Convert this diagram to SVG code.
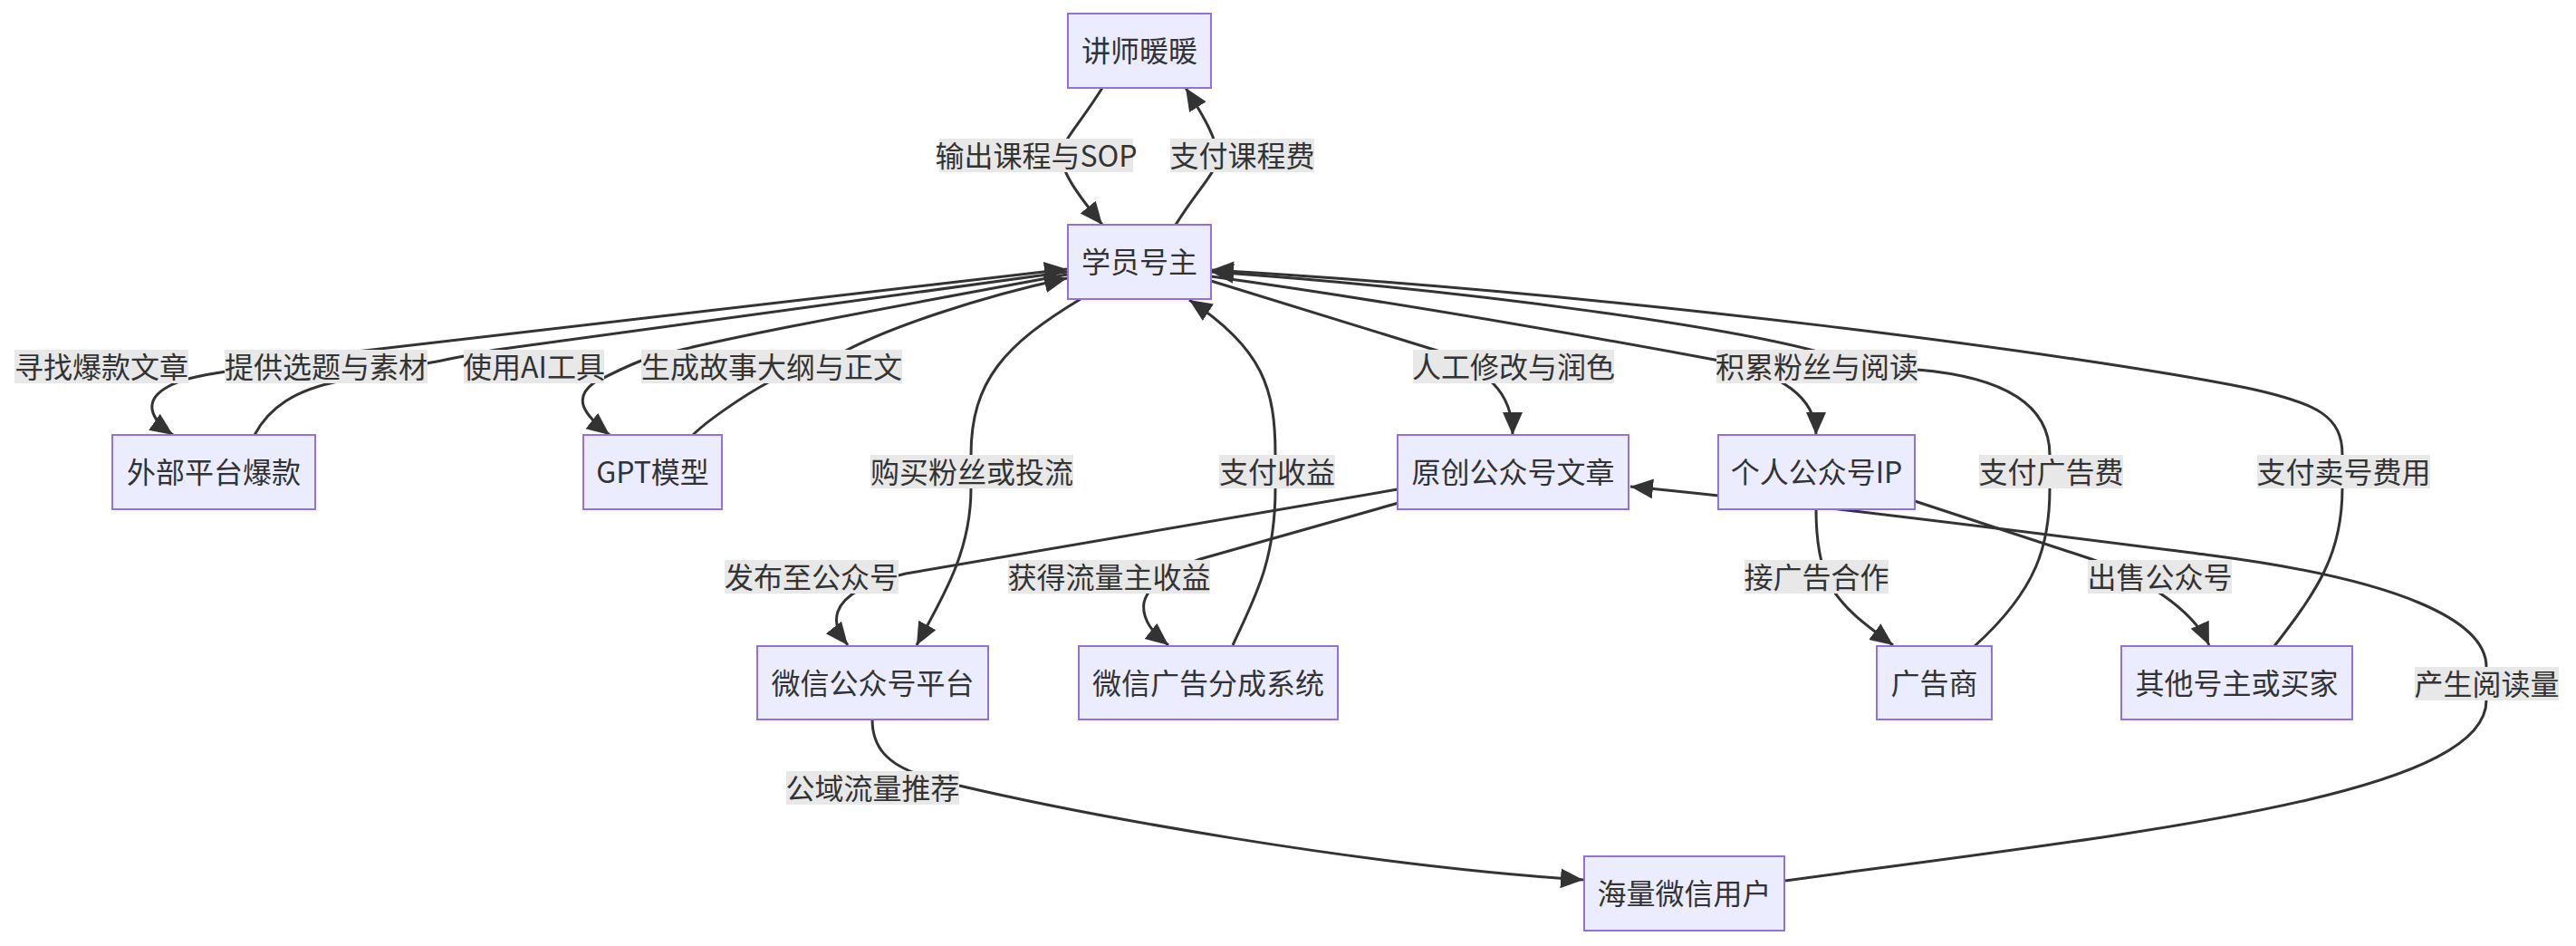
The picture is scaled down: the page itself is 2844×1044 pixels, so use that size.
<svg xmlns="http://www.w3.org/2000/svg" width="2844" height="1044" viewBox="0 0 2844 1044">
<defs>
<marker id="arr" markerUnits="userSpaceOnUse" markerWidth="26" markerHeight="24" refX="25" refY="11" orient="auto">
<path d="M0,0 L25,11 L0,22 z" fill="#333333"/>
</marker>
<style>
.node rect{fill:#ECECFF;stroke:#9370DB;stroke-width:2}
text{font-family:"Noto Sans CJK SC","Liberation Sans",sans-serif;font-size:32px;fill:#333333;text-anchor:middle}
.edges path{fill:none;stroke:#333333;stroke-width:3;stroke-linejoin:round;marker-end:url(#arr)}
.lbl rect{fill:#e8e8e8}
</style>
</defs>
<rect x="0" y="0" width="2844" height="1044" fill="#ffffff"/>
<g id="connectors" class="edges">
<path id="e1" d="M1217,97 C1190,140 1172,155 1172,172 C1172,190 1190,215 1217,248"/>
<path id="e2" d="M1298,248 C1325,205 1344,190 1344,172 C1344,155 1330,130 1309,97"/>
<path id="e3" d="M1178,300 L548,386 C520,391 490,398 460,403 L250,410 C228,413 200,418 185,427 C158,442 165,462 191,480"/>
<path id="e4" d="M281,480 C297,450 325,430 378,420 L385,389 L1178,297"/>
<path id="e5" d="M1178,303 C950,345 760,380 708,398 C690,405 670,415 655,423 C632,440 645,458 673,480"/>
<path id="e6" d="M765,480 C780,465 820,437 850,421 L930,389 C980,362 1080,328 1178,307"/>
<path id="e7" d="M1337,310 L1590,388 C1640,410 1670,430 1670,480"/>
<path id="e8" d="M1337,305 Q1574,338 1893,397 C1950,408 2005,430 2005,480"/>
<path id="e9" d="M2180,713 C2250,650 2263,600 2263,539 L2263,502 C2263,440 2200,415 2117,408 L2010,389 C1920,364 1650,322 1337,300"/>
<path id="e10" d="M2511,713 C2560,650 2586,610 2586,539 L2586,502 C2586,460 2560,445 2480,428 C2300,392 1800,325 1337,298"/>
<path id="e11" d="M1543,540 L1000,633 C960,642 932,655 925,675 C920,690 928,702 936,712"/>
<path id="e12" d="M1544,555 L1325,617 C1290,630 1268,645 1263,665 C1260,685 1275,700 1290,712"/>
<path id="e13" d="M2005,562 C2005,600 2010,625 2020,645 C2035,672 2060,690 2090,712"/>
<path id="e14" d="M2114,553 L2309,617 C2360,635 2420,670 2439,712"/>
<path id="e15" d="M963,794 C963,825 980,843 1015,855 L1059,867 C1200,900 1500,955 1748,971"/>
<path id="e16" d="M1971,972 C2350,920 2745,880 2745,773 L2745,736 C2745,685 2650,640 2442,613 C2300,595 2000,556 1800,537"/>
<path id="e17" d="M1193,330 C1110,380 1072,420 1072,502 L1072,539 C1072,610 1040,660 1012,712"/>
<path id="e18" d="M1361,712 C1385,660 1408,620 1408,539 L1408,502 C1408,430 1395,385 1313,331"/>
</g>
<g id="edge-labels" class="lbl">
<g id="l1"><rect x="1037" y="153" width="214" height="37"/><text x="1144" y="183.5">输出课程与SOP</text></g>
<g id="l2"><rect x="1292" y="153" width="159" height="37"/><text x="1371.5" y="183.5">支付课程费</text></g>
<g id="l3"><rect x="16" y="386" width="192" height="37"/><text x="112" y="416.5">寻找爆款文章</text></g>
<g id="l4"><rect x="248" y="386" width="224" height="37"/><text x="360" y="416.5">提供选题与素材</text></g>
<g id="l5"><rect x="512" y="386" width="155" height="37"/><text x="589.5" y="416.5">使用AI工具</text></g>
<g id="l6"><rect x="708" y="386" width="288" height="37"/><text x="852" y="416.5">生成故事大纲与正文</text></g>
<g id="l7"><rect x="1560" y="386" width="222" height="37"/><text x="1671" y="416.5">人工修改与润色</text></g>
<g id="l8"><rect x="1895" y="386" width="222" height="37"/><text x="2006" y="416.5">积累粉丝与阅读</text></g>
<g id="l9"><rect x="2185" y="502" width="159" height="37"/><text x="2264.5" y="532.5">支付广告费</text></g>
<g id="l10"><rect x="2492" y="502" width="191" height="37"/><text x="2587.5" y="532.5">支付卖号费用</text></g>
<g id="l11"><rect x="800" y="618" width="192" height="37"/><text x="896" y="648.5">发布至公众号</text></g>
<g id="l12"><rect x="1113" y="618" width="223" height="37"/><text x="1224.5" y="648.5">获得流量主收益</text></g>
<g id="l13"><rect x="1926" y="618" width="159" height="37"/><text x="2005.5" y="648.5">接广告合作</text></g>
<g id="l14"><rect x="2305" y="618" width="159" height="37"/><text x="2384.5" y="648.5">出售公众号</text></g>
<g id="l15"><rect x="868" y="851" width="191" height="37"/><text x="963.5" y="881.5">公域流量推荐</text></g>
<g id="l16"><rect x="2666" y="736" width="159" height="37"/><text x="2745.5" y="766.5">产生阅读量</text></g>
<g id="l17"><rect x="961" y="502" width="224" height="37"/><text x="1073" y="532.5">购买粉丝或投流</text></g>
<g id="l18"><rect x="1346" y="502" width="128" height="37"/><text x="1410" y="532.5">支付收益</text></g>
</g>
<g id="nodes">
<g id="n-lecturer" class="node"><rect x="1179" y="15" width="158" height="82"/><text x="1258" y="68">讲师暖暖</text></g>
<g id="n-student" class="node"><rect x="1179" y="248" width="158" height="82"/><text x="1258" y="301">学员号主</text></g>
<g id="n-external" class="node"><rect x="124" y="480" width="224" height="82"/><text x="236" y="533">外部平台爆款</text></g>
<g id="n-gpt" class="node"><rect x="644" y="480" width="153" height="82"/><text x="720.5" y="533">GPT模型</text></g>
<g id="n-article" class="node"><rect x="1543" y="480" width="255" height="82"/><text x="1670.5" y="533">原创公众号文章</text></g>
<g id="n-ip" class="node"><rect x="1897" y="480" width="217" height="82"/><text x="2005.5" y="533">个人公众号IP</text></g>
<g id="n-platform" class="node"><rect x="836" y="713" width="255" height="81"/><text x="963.5" y="765.5">微信公众号平台</text></g>
<g id="n-adshare" class="node"><rect x="1191" y="713" width="286" height="81"/><text x="1334" y="765.5">微信广告分成系统</text></g>
<g id="n-advertiser" class="node"><rect x="2072" y="713" width="127" height="81"/><text x="2135.5" y="765.5">广告商</text></g>
<g id="n-buyer" class="node"><rect x="2342" y="713" width="255" height="81"/><text x="2469.5" y="765.5">其他号主或买家</text></g>
<g id="n-users" class="node"><rect x="1749" y="945" width="221" height="82"/><text x="1859.5" y="998">海量微信用户</text></g>
</g>
</svg>
